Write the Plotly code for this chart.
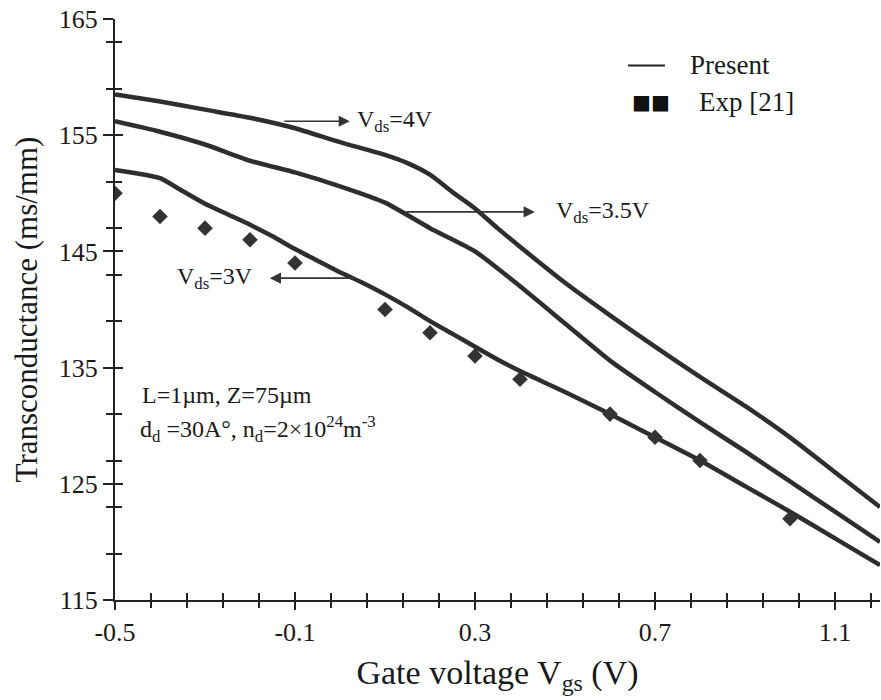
import plotly.graph_objects as go

# ---- data ----
vds4_x = [-0.5, -0.4, -0.3, -0.2, -0.1, 0.0, 0.1, 0.15, 0.2, 0.25, 0.3, 0.35, 0.4, 0.5, 0.6, 0.7, 0.8, 0.9, 1.0, 1.1, 1.2]
vds4_y = [158.5, 157.9, 157.2, 156.5, 155.6, 154.4, 153.3, 152.6, 151.6, 150.1, 148.7, 147.0, 145.4, 142.3, 139.5, 136.8, 134.2, 131.7, 129.0, 126.0, 123.0]

vds35_x = [-0.5, -0.4, -0.3, -0.2, -0.1, 0.0, 0.1, 0.2, 0.3, 0.4, 0.5, 0.6, 0.7, 0.8, 0.9, 1.0, 1.1, 1.2]
vds35_y = [156.2, 155.3, 154.2, 152.8, 151.8, 150.6, 149.2, 147.0, 145.0, 142.0, 138.8, 135.6, 132.9, 130.3, 127.8, 125.2, 122.6, 120.0]

vds3_x = [-0.5, -0.45, -0.4, -0.35, -0.3, -0.25, -0.2, -0.15, -0.1, -0.05, 0.0, 0.05, 0.1, 0.15, 0.2, 0.25, 0.3, 0.35, 0.4, 0.5, 0.6, 0.7, 0.8, 0.9, 1.0, 1.1, 1.2]
vds3_y = [152.0, 151.7, 151.3, 150.2, 149.1, 148.2, 147.3, 146.3, 145.2, 144.2, 143.2, 142.3, 141.3, 140.2, 139.0, 137.9, 136.8, 135.7, 134.7, 132.9, 131.0, 129.0, 127.0, 124.8, 122.6, 120.3, 118.0]

exp_x = [-0.5, -0.4, -0.3, -0.2, -0.1, 0.1, 0.2, 0.3, 0.4, 0.6, 0.7, 0.8, 1.0]
exp_y = [150, 148, 147, 146, 144, 140, 138, 136, 134, 131, 129, 127, 122]

x_ticks = [-0.5, -0.1, 0.3, 0.7, 1.1]
x_tick_labels = ["-0.5", "-0.1", "0.3", "0.7", "1.1"]
y_ticks = [115, 125, 135, 145, 155, 165]
y_tick_labels = ["115", "125", "135", "145", "155", "165"]

X_RANGE = [-0.5, 1.2]
Y_RANGE = [115, 165]

FONT = "Liberation Serif"
LINE_COLOR = "#2e2e2e"
TXT = "#1a1a1a"

fig = go.Figure()

for xs, ys in [(vds4_x, vds4_y), (vds35_x, vds35_y), (vds3_x, vds3_y)]:
    fig.add_trace(go.Scatter(x=xs, y=ys, mode="lines",
                             line=dict(color=LINE_COLOR, width=4.5, shape="spline", smoothing=0.6),
                             showlegend=False, hoverinfo="skip"))

fig.add_trace(go.Scatter(x=exp_x, y=exp_y, mode="markers",
                         marker=dict(symbol="diamond", size=12, color="#333333"),
                         showlegend=False, hoverinfo="skip"))

# invisible trace to create overlay axes (inside half of crossing ticks)
fig.add_trace(go.Scatter(x=[None], y=[None], xaxis="x2", yaxis="y2", showlegend=False, hoverinfo="skip"))

axis_common = dict(showgrid=False, zeroline=False, tickcolor="#222", tickwidth=2)

fig.update_layout(
    width=881, height=700,
    margin=dict(l=115, r=1, t=19, b=100),
    paper_bgcolor="white", plot_bgcolor="white",
    font=dict(family=FONT, color=TXT),
    showlegend=False,
    xaxis=dict(range=X_RANGE, showline=True, linecolor="#222", linewidth=2,
               tickmode="array", tickvals=x_ticks, ticktext=x_tick_labels,
               ticks="outside", ticklen=8,
               minor=dict(tick0=-0.5, dtick=0.08, ticks="outside", ticklen=6, tickcolor="#222", tickwidth=2),
               tickfont=dict(family=FONT, size=26, color=TXT),
               title=dict(text="Gate voltage V<sub>gs</sub> (V)", font=dict(family=FONT, size=34, color=TXT), standoff=14),
               **axis_common),
    yaxis=dict(range=Y_RANGE, showline=True, linecolor="#222", linewidth=2,
               tickmode="array", tickvals=y_ticks, ticktext=y_tick_labels,
               ticks="outside", ticklen=10,
               minor=dict(tick0=115, dtick=4, ticks="outside", ticklen=7, tickcolor="#222", tickwidth=2),
               tickfont=dict(family=FONT, size=26, color=TXT),
               title=dict(text="Transconductance (ms/mm)", font=dict(family=FONT, size=31, color=TXT), standoff=12),
               **axis_common),
    xaxis2=dict(range=X_RANGE, overlaying="x", anchor="y2", showline=False, showticklabels=False,
                tickmode="array", tickvals=x_ticks, ticks="inside", ticklen=8,
                minor=dict(tick0=-0.5, dtick=0.08, ticks="inside", ticklen=7, tickcolor="#222", tickwidth=2),
                **axis_common),
    yaxis2=dict(range=Y_RANGE, overlaying="y", anchor="x2", side="left", showline=False, showticklabels=False,
                tickmode="array", tickvals=y_ticks, ticks="inside", ticklen=8,
                minor=dict(tick0=115, dtick=4, ticks="inside", ticklen=7, tickcolor="#222", tickwidth=2),
                **axis_common),
)

# arrows with labels
arrows = [
    # (tail_x, head_x, y, label, label_x, anchor)
    (-0.127, 0.022, 156.2, "V<sub>ds</sub>=4V", 0.033, "left"),
    (0.144, 0.433, 148.4, "V<sub>ds</sub>=3.5V", 0.476, "left"),
    (0.037, -0.156, 142.7, "V<sub>ds</sub>=3V", -0.188, "right"),
]
for tx, hx, yy, lab, lx, anc in arrows:
    fig.add_annotation(x=hx, y=yy, ax=tx, ay=yy, xref="x", yref="y", axref="x", ayref="y",
                       text="", showarrow=True, arrowhead=2, arrowsize=1.4, arrowwidth=1.6,
                       arrowcolor="#333")
    fig.add_annotation(x=lx, y=yy, xref="x", yref="y", text=lab, showarrow=False,
                       xanchor=anc, yanchor="middle", font=dict(family=FONT, size=24, color=TXT))

# parameter text
fig.add_annotation(x=-0.445, y=132.6, xref="x", yref="y", showarrow=False, xanchor="left", yanchor="middle",
                   text="L=1\u00b5m, Z=75\u00b5m", font=dict(family=FONT, size=24, color=TXT))
fig.add_annotation(x=-0.45, y=129.7, xref="x", yref="y", showarrow=False, xanchor="left", yanchor="middle",
                   text="d<sub>d</sub> =30A\u00b0, n<sub>d</sub>=2\u00d710<sup>24</sup>m<sup>-3</sup>",
                   font=dict(family=FONT, size=24, color=TXT))

# legend (drawn manually to match the reference look)
fig.add_shape(type="line", x0=0.64, x1=0.722, y0=161.0, y1=161.0, xref="x", yref="y",
              line=dict(color="#222", width=2))
fig.add_annotation(x=0.773, y=161.0, xref="x", yref="y", showarrow=False, xanchor="left", yanchor="middle",
                   text="Present", font=dict(family=FONT, size=27, color=TXT))
fig.add_annotation(x=0.645, y=157.9, xref="x", yref="y", showarrow=False, xanchor="left", yanchor="middle",
                   text="\u25a0\u25a0", font=dict(family="DejaVu Sans", size=20, color="#111"))
fig.add_annotation(x=0.793, y=157.9, xref="x", yref="y", showarrow=False, xanchor="left", yanchor="middle",
                   text="Exp [21]", font=dict(family=FONT, size=27, color=TXT))

fig.write_html("out.html")
